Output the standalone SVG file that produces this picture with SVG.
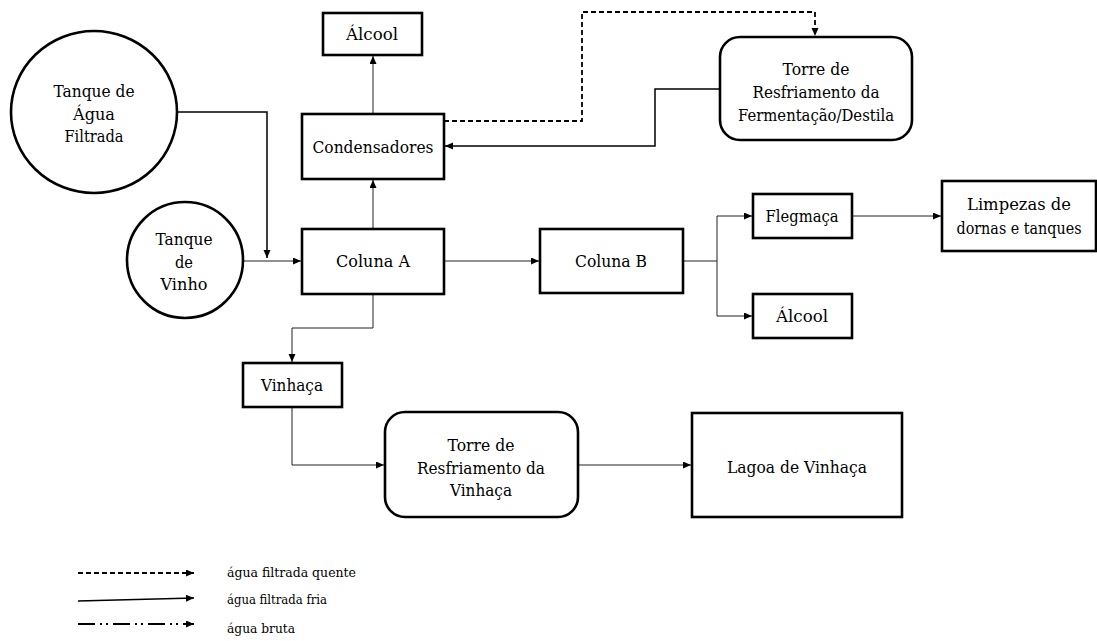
<svg xmlns="http://www.w3.org/2000/svg" width="1097" height="641" viewBox="0 0 1097 641">
  <style>
    .box { fill: #fff; stroke: #000; stroke-width: 2.6; }
    .tank { fill: #fff; stroke: #000; stroke-width: 2.6; }
    .lbl { font-family: 'DejaVu Serif', 'Liberation Serif', serif; font-size: 17px; fill: #000; text-anchor: middle; }
    .leg { font-family: 'DejaVu Serif', 'Liberation Serif', serif; font-size: 12px; fill: #000; }
    .flow { fill: none; stroke: #222; stroke-width: 1; }
    .water { fill: none; stroke: #000; stroke-width: 1.5; }
    .hot { fill: none; stroke: #000; stroke-width: 1.8; stroke-dasharray: 5 3; }
    .raw { fill: none; stroke: #000; stroke-width: 1.8; stroke-dasharray: 17 5 2 4 2 5; }
  </style>
  <defs>
    <marker id="arrow" markerUnits="userSpaceOnUse" markerWidth="9" markerHeight="8" refX="8" refY="3.5" orient="auto">
      <path d="M0,0 L8,3.5 L0,7 z" fill="#000"/>
    </marker>
  </defs>

  <rect width="1097" height="641" fill="#fff"/>

  <!-- connectors -->
  <g id="connectors">
    <path class="water" d="M177,112 H267 V258" marker-end="url(#arrow)"/>
    <path class="flow" d="M243,261 H301" marker-end="url(#arrow)"/>
    <path class="flow" d="M373,229 V180" marker-end="url(#arrow)"/>
    <path class="flow" d="M373,114 V56" marker-end="url(#arrow)"/>
    <path class="hot" d="M444,121 H582 V12 H815 V36" marker-end="url(#arrow)"/>
    <path class="water" d="M719,89 H655 V146 H445" marker-end="url(#arrow)"/>
    <path class="flow" d="M444,261 H539" marker-end="url(#arrow)"/>
    <path class="flow" d="M683,261 H717 V216 H752" marker-end="url(#arrow)"/>
    <path class="flow" d="M717,261 V316 H752" marker-end="url(#arrow)"/>
    <path class="flow" d="M852,216 H941" marker-end="url(#arrow)"/>
    <path class="flow" d="M373,294 V328 H292 V362" marker-end="url(#arrow)"/>
    <path class="flow" d="M292,407 V465 H384" marker-end="url(#arrow)"/>
    <path class="flow" d="M578,465 H691" marker-end="url(#arrow)"/>
  </g>

  <!-- nodes -->
  <g id="tanque-agua">
    <ellipse class="tank" cx="94" cy="112" rx="83" ry="81"/>
    <text class="lbl" x="94" y="97" textLength="81" lengthAdjust="spacingAndGlyphs">Tanque de</text>
    <text class="lbl" x="94" y="120" textLength="42" lengthAdjust="spacingAndGlyphs">Água</text>
    <text class="lbl" x="94" y="142" textLength="59" lengthAdjust="spacingAndGlyphs">Filtrada</text>
  </g>

  <g id="tanque-vinho">
    <circle class="tank" cx="185" cy="260" r="58"/>
    <text class="lbl" x="184" y="245" textLength="57" lengthAdjust="spacingAndGlyphs">Tanque</text>
    <text class="lbl" x="184" y="268" textLength="18" lengthAdjust="spacingAndGlyphs">de</text>
    <text class="lbl" x="184" y="290" textLength="47" lengthAdjust="spacingAndGlyphs">Vinho</text>
  </g>

  <g id="alcool-1">
    <rect class="box" x="323" y="13" width="99" height="42"/>
    <text class="lbl" x="372" y="40" textLength="52" lengthAdjust="spacingAndGlyphs">Álcool</text>
  </g>

  <g id="condensadores">
    <rect class="box" x="302" y="114" width="142" height="65"/>
    <text class="lbl" x="373" y="153" textLength="121" lengthAdjust="spacingAndGlyphs">Condensadores</text>
  </g>

  <g id="coluna-a">
    <rect class="box" x="302" y="229" width="142" height="65"/>
    <text class="lbl" x="373" y="267" textLength="74" lengthAdjust="spacingAndGlyphs">Coluna A</text>
  </g>

  <g id="torre-fermentacao">
    <rect class="box" x="720" y="37" width="192" height="103" rx="20" ry="20"/>
    <text class="lbl" x="816" y="75" textLength="67" lengthAdjust="spacingAndGlyphs">Torre de</text>
    <text class="lbl" x="816" y="98" textLength="127" lengthAdjust="spacingAndGlyphs">Resfriamento da</text>
    <text class="lbl" x="816" y="121" textLength="156" lengthAdjust="spacingAndGlyphs">Fermentação/Destila</text>
  </g>

  <g id="coluna-b">
    <rect class="box" x="540" y="229" width="143" height="64"/>
    <text class="lbl" x="611" y="267" textLength="72" lengthAdjust="spacingAndGlyphs">Coluna B</text>
  </g>

  <g id="flegmaca">
    <rect class="box" x="753" y="194" width="99" height="44"/>
    <text class="lbl" x="802" y="222" textLength="73" lengthAdjust="spacingAndGlyphs">Flegmaça</text>
  </g>

  <g id="alcool-2">
    <rect class="box" x="753" y="294" width="99" height="44"/>
    <text class="lbl" x="802" y="322" textLength="52" lengthAdjust="spacingAndGlyphs">Álcool</text>
  </g>

  <g id="limpezas">
    <rect class="box" x="942" y="181" width="154" height="70"/>
    <text class="lbl" x="1019" y="210" textLength="104" lengthAdjust="spacingAndGlyphs">Limpezas de</text>
    <text class="lbl" x="1019" y="234" textLength="125" lengthAdjust="spacingAndGlyphs">dornas e tanques</text>
  </g>

  <g id="vinhaca">
    <rect class="box" x="243" y="363" width="99" height="44"/>
    <text class="lbl" x="292" y="391" textLength="62" lengthAdjust="spacingAndGlyphs">Vinhaça</text>
  </g>

  <g id="torre-vinhaca">
    <rect class="box" x="385" y="412" width="193" height="105" rx="20" ry="20"/>
    <text class="lbl" x="481" y="451" textLength="67" lengthAdjust="spacingAndGlyphs">Torre de</text>
    <text class="lbl" x="481" y="474" textLength="128" lengthAdjust="spacingAndGlyphs">Resfriamento da</text>
    <text class="lbl" x="481" y="496" textLength="62" lengthAdjust="spacingAndGlyphs">Vinhaça</text>
  </g>

  <g id="lagoa">
    <rect class="box" x="692" y="413" width="210" height="104"/>
    <text class="lbl" x="797" y="473" textLength="140" lengthAdjust="spacingAndGlyphs">Lagoa de Vinhaça</text>
  </g>

  <!-- legend -->
  <g id="legenda">
    <path class="hot" d="M78,573 H194" marker-end="url(#arrow)"/>
    <path class="water" d="M78,601 L194,598" marker-end="url(#arrow)"/>
    <path class="raw" d="M78,624 H194" marker-end="url(#arrow)"/>
    <text class="leg" x="227" y="577" textLength="129" lengthAdjust="spacingAndGlyphs">água filtrada quente</text>
    <text class="leg" x="227" y="604" textLength="100" lengthAdjust="spacingAndGlyphs">água filtrada fria</text>
    <text class="leg" x="227" y="633" textLength="68" lengthAdjust="spacingAndGlyphs">água bruta</text>
  </g>
</svg>
